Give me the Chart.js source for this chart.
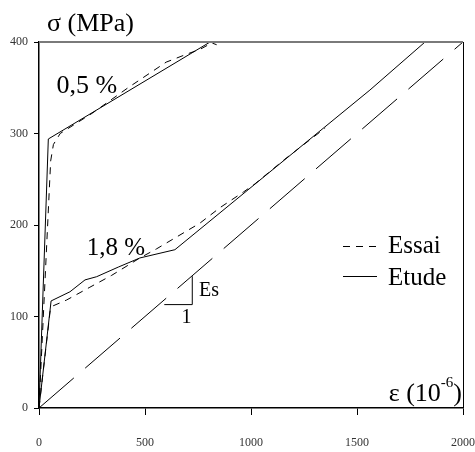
<!DOCTYPE html>
<html>
<head>
<meta charset="utf-8">
<script src="https://cdn.jsdelivr.net/npm/chart.js@4/dist/chart.umd.min.js"></script>
<style>
  html, body { margin: 0; padding: 0; background: #fff; }
  #wrap { width: 475px; height: 452px; }
</style>
</head>
<body>
<div id="wrap"><canvas id="c" width="475" height="452"></canvas></div>
<script>
// Strain in 10^-6, stress in MPa
const strainTicks = [0, 500, 1000, 1500, 2000];
const stressTicks = [0, 100, 200, 300, 400];

// 0,5 % reinforcement: test and model
const essai05Strain = [0, 55, 68, 100, 250, 420, 600, 700, 760, 815, 838];
const essai05Stress = [0, 270, 288, 300, 322, 350, 378, 387, 392, 399, 397];
const etude05Strain = [0, 44, 807];
const etude05Stress = [0, 294, 400];

// 1,8 % reinforcement: test and model
const essai18Strain = [0, 52, 60, 130, 240, 343, 476, 555, 759, 854, 964, 1019, 1160, 1350];
const essai18Stress = [0, 105, 111, 118, 132, 145, 164, 174, 202, 219, 236, 245, 272, 306];
const etude18Strain = [0, 57, 146, 217, 272, 374, 476, 641, 1561, 1821];
const etude18Stress = [0, 117, 127, 140, 143.5, 154, 164, 173, 347.5, 400];

// Steel modulus line and its slope triangle
const modulusStrain = [0, 2000];
const modulusStress = [0, 400];
const slopeStrain = [591, 723, 723];
const slopeStress = [113, 113, 144];

const pts = (xs, ys) => xs.map((x, i) => ({ x: x, y: ys[i] }));
const SERIF = "'Liberation Serif', 'Times New Roman', serif";
const DASH_SHORT = [7, 6];
const DASH_LONG = [46, 15];

function line(data, dash) {
  return {
    data: data,
    borderColor: '#000',
    borderWidth: 1,
    borderDash: dash || [],
    pointRadius: 0,
    showLine: true,
    fill: false,
    tension: 0
  };
}

const datasets = [
  line(pts(essai05Strain, essai05Stress), DASH_SHORT),
  line(pts(etude05Strain, etude05Stress)),
  line(pts(essai18Strain, essai18Stress), DASH_SHORT),
  line(pts(etude18Strain, etude18Stress)),
  line(pts(modulusStrain, modulusStress), DASH_LONG),
  line(pts(slopeStrain, slopeStress))
];

const decorations = {
  id: 'decorations',
  afterDatasetsDraw(chart) {
    const ctx = chart.ctx;
    const a = chart.chartArea;
    const xs = chart.scales.x, ys = chart.scales.y;
    ctx.save();

    // frame: grey top edge, thin right edge
    ctx.setLineDash([]);
    ctx.strokeStyle = '#7a7a7a';
    ctx.lineWidth = 2;
    ctx.beginPath();
    ctx.moveTo(a.left, a.top);
    ctx.lineTo(a.right, a.top);
    ctx.stroke();
    ctx.strokeStyle = '#000';
    ctx.lineWidth = 1;
    ctx.beginPath();
    ctx.moveTo(a.right + 0.5, a.top);
    ctx.lineTo(a.right + 0.5, a.bottom);
    ctx.stroke();

    ctx.fillStyle = '#000';
    ctx.textBaseline = 'alphabetic';
    ctx.textAlign = 'left';

    // axis titles
    ctx.font = '26px ' + SERIF;
    ctx.fillText('σ (MPa)', a.left + 8, 31);

    const big = '26px ' + SERIF, sup = '15px ' + SERIF;
    ctx.font = big;
    const w1 = ctx.measureText('ε (10').width;
    const w3 = ctx.measureText(')').width;
    ctx.font = sup;
    const w2 = ctx.measureText('-6').width;
    let x0 = a.right - 1 - (w1 + w2 + w3);
    ctx.font = big;
    ctx.fillText('ε (10', x0, 401);
    ctx.font = sup;
    ctx.fillText('-6', x0 + w1, 387);
    ctx.font = big;
    ctx.fillText(')', x0 + w1 + w2, 401);

    // curve labels placed in data space
    ctx.font = '26px ' + SERIF;
    ctx.fillText('0,5 %', xs.getPixelForValue(83), ys.getPixelForValue(344));
    ctx.font = '25px ' + SERIF;
    ctx.fillText('1,8 %', xs.getPixelForValue(225), ys.getPixelForValue(167));
    ctx.font = '20px ' + SERIF;
    ctx.fillText('Es', xs.getPixelForValue(755), ys.getPixelForValue(122));
    ctx.fillText('1', xs.getPixelForValue(672), ys.getPixelForValue(93));

    // legend
    const lx0 = a.right - 120, lx1 = a.right - 86;
    ctx.lineWidth = 1;
    ctx.strokeStyle = '#000';
    ctx.setLineDash(DASH_SHORT);
    ctx.beginPath();
    ctx.moveTo(lx0, 246.5);
    ctx.lineTo(lx1, 246.5);
    ctx.stroke();
    ctx.setLineDash([]);
    ctx.beginPath();
    ctx.moveTo(lx0, 276.5);
    ctx.lineTo(lx1, 276.5);
    ctx.stroke();
    ctx.font = '25px ' + SERIF;
    ctx.fillText('Essai', a.right - 75, 253);
    ctx.fillText('Etude', a.right - 75, 285);

    ctx.restore();
  }
};

new Chart(document.getElementById('c'), {
  type: 'scatter',
  data: { datasets: datasets },
  plugins: [decorations],
  options: {
    responsive: false,
    animation: false,
    layout: { padding: { top: 42, right: 0, left: 0, bottom: 0 } },
    plugins: { legend: { display: false }, tooltip: { enabled: false } },
    scales: {
      x: {
        type: 'linear',
        min: 0, max: 2000,
        afterBuildTicks: s => { s.ticks = strainTicks.map(v => ({ value: v })); },
        afterFit: s => { s.height = 44; s.paddingLeft = 0; s.paddingRight = 12; },
        grid: { drawOnChartArea: false, drawTicks: true, tickLength: 7, color: '#000', lineWidth: 1 },
        border: { color: '#000', width: 1.5 },
        ticks: { color: '#333', padding: 21, maxRotation: 0, autoSkip: false,
                 callback: v => String(v),
                 font: { family: SERIF, size: 12 } }
      },
      y: {
        type: 'linear',
        min: 0, max: 400,
        afterBuildTicks: s => { s.ticks = stressTicks.map(v => ({ value: v })); },
        afterFit: s => { s.width = 39; s.paddingTop = 0; s.paddingBottom = 0; },
        grid: { drawOnChartArea: false, drawTicks: true, tickLength: 5, color: '#000', lineWidth: 1 },
        border: { color: '#000', width: 1.5 },
        ticks: { color: '#333', padding: 6, autoSkip: false,
                 callback: v => String(v),
                 font: { family: SERIF, size: 12 } }
      }
    }
  }
});
</script>
</body>
</html>
